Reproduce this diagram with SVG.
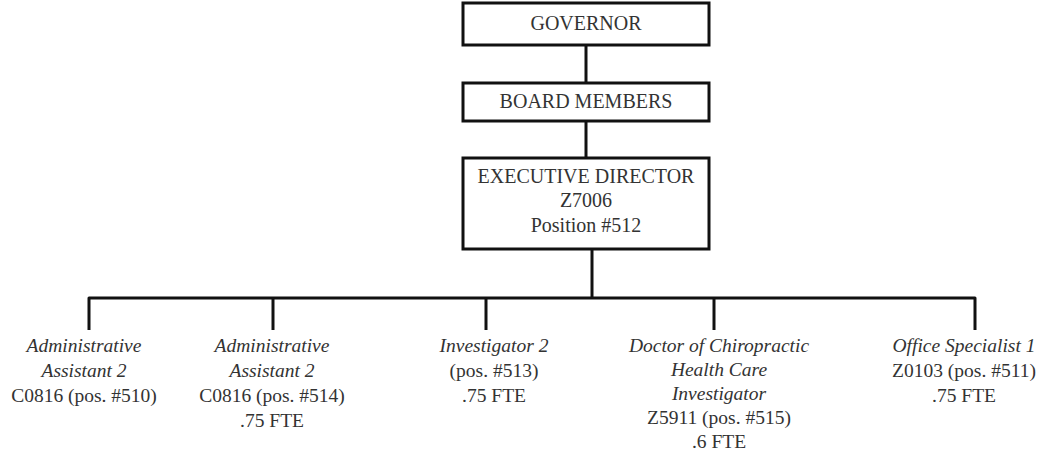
<svg xmlns="http://www.w3.org/2000/svg" width="1045" height="456" viewBox="0 0 1045 456">
<style>
.box{fill:#fff;stroke:#111;stroke-width:3}
.ln{fill:none;stroke:#111;stroke-width:3;stroke-linejoin:round}
text{font-family:"Liberation Serif","Times New Roman",serif;fill:#333;text-anchor:middle}
.t{font-size:20px}
.b{font-size:19.5px}
.i{font-style:italic}
</style>
<rect width="1045" height="456" fill="#fff"/>
<g id="connectors">
<path class="ln" d="M586 45V83"/>
<path class="ln" d="M586 121V158"/>
<path class="ln" d="M592 249V298"/>
<path class="ln" d="M89 330V298H975V330"/>
<path class="ln" d="M273 298V330"/>
<path class="ln" d="M486 298V330"/>
<path class="ln" d="M714 298V330"/>
</g>
<g id="governor">
<rect class="box" x="463" y="3" width="246" height="42"/>
<text class="t" x="586" y="30">GOVERNOR</text>
</g>
<g id="board">
<rect class="box" x="463" y="83" width="246" height="38"/>
<text class="t" x="586" y="108">BOARD MEMBERS</text>
</g>
<g id="executive">
<rect class="box" x="463" y="158" width="246" height="91"/>
<text class="t" x="586" y="183">EXECUTIVE DIRECTOR</text>
<text class="t" x="586" y="207">Z7006</text>
<text class="t" x="586" y="232">Position #512</text>
</g>
<g id="admin1">
<text class="b i" x="84" y="352">Administrative</text>
<text class="b i" x="84" y="377">Assistant 2</text>
<text class="b" x="84" y="402">C0816 (pos. #510)</text>
</g>
<g id="admin2">
<text class="b i" x="272" y="352">Administrative</text>
<text class="b i" x="272" y="377">Assistant 2</text>
<text class="b" x="272" y="402">C0816 (pos. #514)</text>
<text class="b" x="272" y="427">.75 FTE</text>
</g>
<g id="investigator">
<text class="b i" x="494" y="352">Investigator 2</text>
<text class="b" x="494" y="377">(pos. #513)</text>
<text class="b" x="494" y="402">.75 FTE</text>
</g>
<g id="doctor">
<text class="b i" x="719" y="352">Doctor of Chiropractic</text>
<text class="b i" x="719" y="376">Health Care</text>
<text class="b i" x="719" y="400">Investigator</text>
<text class="b" x="719" y="424">Z5911 (pos. #515)</text>
<text class="b" x="719" y="448">.6 FTE</text>
</g>
<g id="office">
<text class="b i" x="964" y="352">Office Specialist 1</text>
<text class="b" x="964" y="377">Z0103 (pos. #511)</text>
<text class="b" x="964" y="402">.75 FTE</text>
</g>
</svg>
